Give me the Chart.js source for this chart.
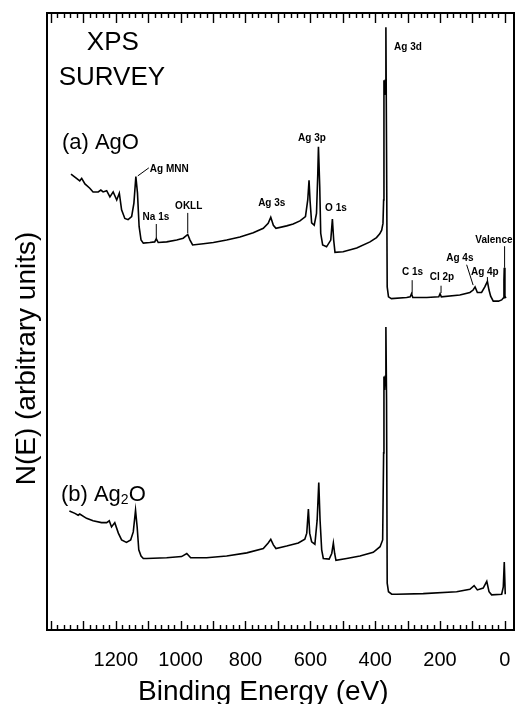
<!DOCTYPE html>
<html>
<head>
<meta charset="utf-8">
<title>XPS survey</title>
<script src="https://cdn.jsdelivr.net/npm/chart.js@4.4.1/dist/chart.umd.min.js"></script>
<style>
  html, body { margin: 0; padding: 0; background: #fff; }
  #wrap { width: 515px; height: 704px; position: relative; }
</style>
</head>
<body>
<div id="wrap"><canvas id="xpsChart"></canvas></div>
<script>
// spectrum (a) AgO : binding energy (eV) / N(E)
const agoEnergy = [1338, 1321, 1311, 1305, 1295, 1280, 1270, 1254, 1246, 1239, 1228, 1218, 1208, 1197, 1189, 1182, 1172, 1162, 1151, 1144,
  1138, 1133, 1128, 1122, 1115, 1095, 1080, 1075, 1069, 1043, 1012, 992, 978, 971, 963, 930, 899, 858, 817, 776,
  745, 730, 722, 714, 706, 673, 653, 632, 615, 608, 604, 601, 596, 588, 581, 577, 575, 571, 568, 562,
  550, 537, 532, 528, 524, 499, 457, 416, 396, 386, 380, 376, 374, 373, 371, 369, 367, 365, 363, 359,
  350, 303, 292, 288, 284, 241, 204, 200, 196, 139, 108, 98, 92, 85, 72, 62, 54, 49, 44, 36,
  20, 10, 5, 3, 2, 0, -3];
const agoCounts = [73.9, 73.2, 72.8, 73.2, 72.3, 71.6, 71.0, 71.0, 71.3, 71.0, 71.2, 70.2, 71.0, 69.7, 70.8, 68.1, 66.7, 66.5, 67.0, 69.2,
  73.5, 70.8, 65.4, 63.2, 62.7, 62.8, 62.9, 63.4, 62.8, 62.9, 63.2, 63.5, 64.1, 63.2, 62.4, 62.6, 62.8, 63.2, 63.7, 64.4,
  65.1, 65.9, 66.9, 65.6, 65.1, 65.5, 65.8, 66.3, 67.0, 69.7, 72.9, 69.7, 66.0, 65.6, 67.5, 74.0, 78.3, 71.8, 64.3, 62.4,
  62.1, 63.2, 66.6, 63.2, 61.2, 61.3, 61.9, 62.9, 63.6, 64.2, 64.8, 65.9, 69.7, 89.1, 86.7, 89.1, 97.7, 77.8, 55.6, 54.0,
  53.7, 53.9, 54.0, 54.5, 53.9, 53.9, 54.0, 54.5, 54.0, 54.3, 54.7, 55.1, 55.6, 54.7, 54.7, 55.6, 56.5, 55.1, 54.1, 53.3,
  53.3, 53.5, 53.8, 56.7, 58.7, 54.1, 53.8];

// spectrum (b) Ag2O
const ag2oEnergy = [1343, 1326, 1316, 1311, 1290, 1270, 1244, 1228, 1220, 1213, 1203, 1192, 1182, 1167, 1154, 1146, 1139, 1134, 1129, 1122,
  1115, 1105, 1043, 997, 981, 969, 920, 858, 796, 745, 730, 722, 714, 706, 673, 637, 617, 611, 606, 602,
  596, 586, 579, 574, 570, 565, 560, 542, 534, 529, 525, 521, 488, 447, 406, 385, 377, 374, 373, 371,
  369, 367, 365, 363, 359, 349, 334, 252, 149, 108, 95, 85, 67, 56, 49, 41, 10, 5, 2, -1];
const ag2oCounts = [19.3, 18.9, 18.6, 18.8, 18.1, 17.7, 17.4, 17.4, 17.7, 16.7, 17.4, 15.7, 14.6, 14.2, 14.6, 15.9, 19.4, 16.7, 13.0, 12.0,
  11.6, 11.6, 11.7, 11.9, 12.4, 11.7, 11.7, 12.0, 12.5, 13.2, 14.1, 14.7, 13.8, 13.2, 13.6, 14.1, 14.7, 15.7, 19.6, 15.7,
  14.3, 13.9, 17.8, 23.9, 17.8, 13.0, 11.6, 11.5, 12.4, 14.1, 12.4, 11.3, 11.6, 12.0, 12.6, 13.5, 14.6, 28.7, 41.1, 38.9,
  41.1, 49.1, 37.3, 7.6, 6.2, 5.8, 5.8, 5.9, 6.2, 6.6, 7.2, 6.5, 6.8, 7.9, 6.2, 5.7, 5.8, 7.0, 11.0, 5.8];

const tickValues = [1200, 1000, 800, 600, 400, 200, 0];

// peak names: text centre (eV, N) and optional leader line [e1, n1, e2, n2]
const peakLabels = [
  { text: 'Ag MNN', e: 1095, n: 74.7, align: 'left', leader: [1132, 73.6, 1098, 74.9] },
  { text: 'Na 1s', e: 1076, n: 66.9, leader: [1075, 65.8, 1075, 63.5] },
  { text: 'OKLL', e: 975, n: 68.7, leader: [978, 67.6, 978, 64.3] },
  { text: 'Ag 3s', e: 719, n: 69.2 },
  { text: 'Ag 3p', e: 595, n: 79.7 },
  { text: 'O 1s', e: 521, n: 68.4 },
  { text: 'Ag 3d', e: 299, n: 94.5 },
  { text: 'C 1s', e: 285, n: 58.0, leader: [286, 56.7, 286, 54.5] },
  { text: 'Cl 2p', e: 194, n: 57.1, leader: [197, 55.8, 197, 54.6] },
  { text: 'Ag 4s', e: 139, n: 60.3, leader: [118, 59.2, 98, 55.9] },
  { text: 'Ag 4p', e: 62, n: 58.0, leader: [54, 57.2, 54, 56.6] },
  { text: 'Valence', e: 34, n: 63.2, leader: [1, 62.2, 1, 58.7] }
];

const FONT = '"Liberation Sans", Arial, Helvetica, sans-serif';

function toPoints(xs, ys) {
  return xs.map((e, i) => ({ x: e, y: ys[i] }));
}

// frame round the plot plus inward ticks on top and bottom edges
const frameTicks = {
  id: 'frameTicks',
  afterDraw(chart) {
    const { ctx, chartArea: a, scales: { x } } = chart;
    ctx.save();
    ctx.strokeStyle = '#000';
    ctx.lineWidth = 1.4;
    for (let e = 0; e <= 1400; e += 20) {
      const px = Math.round(x.getPixelForValue(e)) + 0.5;
      const major = e % 100 === 0;
      ctx.beginPath();
      ctx.moveTo(px, a.top);
      ctx.lineTo(px, a.top + (major ? 10 : 5));
      ctx.moveTo(px, a.bottom);
      ctx.lineTo(px, a.bottom - (major ? 9 : 5));
      ctx.stroke();
    }
    ctx.lineWidth = 2;
    ctx.strokeRect(a.left, a.top, a.right - a.left, a.bottom - a.top);
    ctx.restore();
  }
};

// headings, spectrum names, peak names and both axis titles
const spectrumText = {
  id: 'spectrumText',
  afterDatasetsDraw(chart) {
    const { ctx, scales: { x, y } } = chart;
    const px = e => x.getPixelForValue(e);
    const py = n => y.getPixelForValue(n);
    ctx.save();
    ctx.fillStyle = '#000';
    ctx.strokeStyle = '#000';
    ctx.textBaseline = 'middle';

    ctx.font = '26px ' + FONT;
    ctx.textAlign = 'center';
    ctx.fillText('XPS', px(1209), py(95.1));
    ctx.fillText('SURVEY', px(1212), py(89.5));

    ctx.font = '22px ' + FONT;
    ctx.textAlign = 'left';
    ctx.fillText('(a) AgO', px(1366), py(78.9));

    // Ag2O with a subscript 2
    let cx = px(1369);
    const cy = py(21.9);
    ctx.fillText('(b) Ag', cx, cy);
    cx += ctx.measureText('(b) Ag').width;
    ctx.font = '14px ' + FONT;
    ctx.fillText('2', cx, cy + 5);
    cx += ctx.measureText('2').width;
    ctx.font = '22px ' + FONT;
    ctx.fillText('O', cx, cy);

    ctx.font = 'bold 10px ' + FONT;
    ctx.lineWidth = 1;
    peakLabels.forEach(p => {
      ctx.textAlign = p.align || 'center';
      ctx.fillText(p.text, px(p.e), py(p.n));
      if (p.leader) {
        const [e1, n1, e2, n2] = p.leader;
        ctx.beginPath();
        ctx.moveTo(px(e1), py(n1));
        ctx.lineTo(px(e2), py(n2));
        ctx.stroke();
      }
    });

    // energy axis title, centred under the 800-600 gap
    ctx.font = '28px ' + FONT;
    ctx.textAlign = 'center';
    ctx.textBaseline = 'alphabetic';
    ctx.fillText('Binding Energy (eV)', px(745), 700);

    // intensity axis title, rotated
    ctx.textBaseline = 'middle';
    ctx.translate(27, py(44));
    ctx.rotate(-Math.PI / 2);
    ctx.fillText('N(E) (arbitrary units)', 0, 0);
    ctx.restore();
  }
};

const lineStyle = {
  borderColor: '#000',
  borderWidth: 1.6,
  pointRadius: 0,
  tension: 0,
  fill: false
};

new Chart(document.getElementById('xpsChart'), {
  type: 'line',
  data: {
    datasets: [
      Object.assign({ label: 'AgO', data: toPoints(agoEnergy, agoCounts) }, lineStyle),
      Object.assign({ label: 'Ag2O', data: toPoints(ag2oEnergy, ag2oCounts) }, lineStyle)
    ]
  },
  options: {
    responsive: true,
    maintainAspectRatio: false,
    animation: false,
    layout: { padding: { top: 13, right: 1, left: 0, bottom: 0 } },
    plugins: { legend: { display: false }, tooltip: { enabled: false } },
    scales: {
      x: {
        type: 'linear',
        reverse: true,
        min: -28,
        max: 1412,
        afterBuildTicks(scale) {
          scale.ticks = tickValues.map(v => ({ value: v }));
        },
        afterFit(scale) {
          scale.height = 74;
          scale.paddingLeft = 0;
          scale.paddingRight = 0;
        },
        grid: { display: false, drawTicks: false },
        border: { display: false },
        ticks: {
          autoSkip: false,
          maxRotation: 0,
          padding: 18,
          color: '#000',
          font: { family: FONT, size: 20 },
          callback: v => String(v)
        },
        title: { display: false }
      },
      y: {
        min: 0,
        max: 100,
        afterFit(scale) {
          scale.width = 47;
          scale.paddingTop = 0;
          scale.paddingBottom = 0;
        },
        grid: { display: false, drawTicks: false },
        border: { display: false },
        ticks: { display: false },
        title: { display: false }
      }
    }
  },
  plugins: [frameTicks, spectrumText]
});
</script>
</body>
</html>
